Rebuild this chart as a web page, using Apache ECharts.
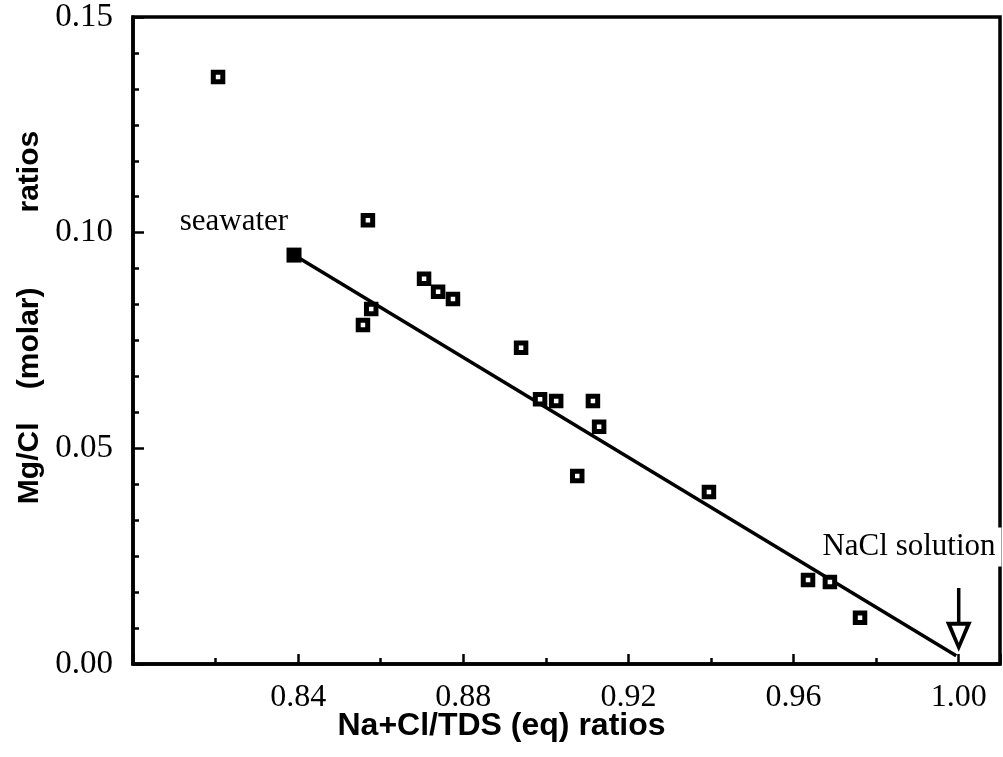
<!DOCTYPE html>
<html>
<head>
<meta charset="utf-8">
<script src="https://cdn.jsdelivr.net/npm/echarts@6/dist/echarts.min.js"></script>
<style>html,body{margin:0;padding:0;background:#fff}#chart{width:1003px;height:757px}</style>
</head>
<body>
<div id="chart"></div>
<script>
// ---- data ----
const xTickLabels = ['0.84', '0.88', '0.92', '0.96', '1.00'];
const yTickLabels = ['0.00', '0.05', '0.10', '0.15'];
const sampleX = [0.8206, 0.8569, 0.8577, 0.8557, 0.8705, 0.8739, 0.8775, 0.8940, 0.8986,
                 0.9025, 0.9114, 0.9129, 0.9076, 0.9395, 0.9635, 0.9688, 0.9761];
const sampleY = [0.1361, 0.1029, 0.0823, 0.0786, 0.0893, 0.0863, 0.0846, 0.0733, 0.0614,
                 0.0610, 0.0610, 0.0550, 0.0436, 0.0399, 0.0195, 0.0190, 0.0107];
const seawater = [0.8390, 0.0948];
const mixingLine = [[0.8390, 0.0948], [0.9994, 0.0019]];
const arrowShaft = [[1.00, 0.0176], [1.00, 0.0095]];
const arrowHead = [1.00, 0.0063];
const annotations = [
  { text: 'seawater', x: 0.8247, y: 0.1025 },
  { text: 'NaCl solution', x: 0.9882, y: 0.0271 }
];

const serif = 'Liberation Serif';
const sans = 'Liberation Sans';

const chart = echarts.init(document.getElementById('chart'), null, { renderer: 'canvas' });
chart.setOption({
  animation: false,
  backgroundColor: '#fff',
  grid: { left: 133, right: 3, top: 17, bottom: 93, show: true, borderColor: '#000', borderWidth: 3.5, backgroundColor: 'transparent' },
  xAxis: [{
    type: 'value', min: 0.80, max: 1.01, interval: 0.04, position: 'bottom',
    name: 'Na+Cl/TDS (eq) ratios', nameLocation: 'middle', nameGap: 46, nameMoveOverlap: false,
    nameTextStyle: { fontFamily: sans, fontWeight: 'bold', fontSize: 32, color: '#000', lineHeight: 32, padding: [0, 130, 0, 0] },
    axisLine: { show: true, lineStyle: { color: '#000', width: 3.5 } },
    axisTick: { show: true, inside: true, length: 10, lineStyle: { color: '#000', width: 2.5 } },
    axisLabel: {
      fontFamily: serif, fontSize: 32, color: '#000', margin: 18, lineHeight: 32,
      formatter: v => { const s = v.toFixed(2); return xTickLabels.includes(s) ? s : ''; }
    },
    splitLine: { show: false }
  }, {
    type: 'value', min: 0.80, max: 1.01, interval: 0.02, position: 'bottom',
    axisLine: { show: false },
    axisTick: { show: true, inside: true, length: 6, lineStyle: { color: '#000', width: 2.5 } },
    axisLabel: { show: false },
    splitLine: { show: false }
  }],
  yAxis: {
    type: 'value', min: 0, max: 0.15, interval: 0.05,
    name: 'Mg/Cl    (molar)         ratios', nameLocation: 'middle', nameGap: 84,
    nameTextStyle: { fontFamily: sans, fontWeight: 'bold', fontSize: 30, color: '#000', padding: [0, 0, 0, 46] },
    axisLine: { show: true, lineStyle: { color: '#000', width: 3.5 } },
    axisTick: { show: true, inside: true, length: 11, lineStyle: { color: '#000', width: 2.5 } },
    minorTick: { show: true, splitNumber: 6, length: 6, lineStyle: { color: '#000', width: 2.5 } },
    axisLabel: {
      fontFamily: serif, fontSize: 33, color: '#000', margin: 20,
      formatter: v => { const s = v.toFixed(2); return yTickLabels.includes(s) ? s : ''; }
    },
    splitLine: { show: false }, minorSplitLine: { show: false }
  },
  series: [
    {
      type: 'line', data: mixingLine, showSymbol: false, symbol: 'none',
      lineStyle: { color: '#000', width: 3.5 }, z: 2
    },
    {
      type: 'line', data: arrowShaft, showSymbol: false, symbol: 'none',
      lineStyle: { color: '#000', width: 3.5 }, z: 2
    },
    {
      type: 'scatter', data: [arrowHead],
      symbol: 'path://M0 0 L26 0 L13 30 Z M6 4 L13 21 L20 4 Z', symbolSize: [26, 30],
      itemStyle: { color: '#000', opacity: 1 }, z: 3
    },
    {
      type: 'scatter', data: sampleX.map((x, i) => [x, sampleY[i]]),
      symbol: 'rect', symbolSize: 9.5,
      itemStyle: { color: '#fff', borderColor: '#000', borderWidth: 5, opacity: 1 }, z: 4
    },
    {
      type: 'scatter', data: [seawater], symbol: 'rect', symbolSize: 15,
      itemStyle: { color: '#000', opacity: 1 }, z: 4
    },
    {
      type: 'scatter', z: 5,
      data: annotations.map(a => ({ value: [a.x, a.y], name: a.text })),
      symbolSize: 0.1, itemStyle: { color: '#fff', opacity: 1 },
      label: {
        show: true, position: 'inside', formatter: '{b}',
        fontFamily: serif, fontSize: 31, color: '#000', opacity: 1,
        backgroundColor: '#fff', padding: [4, 6, 4, 4]
      }
    }
  ]
});
</script>
</body>
</html>
